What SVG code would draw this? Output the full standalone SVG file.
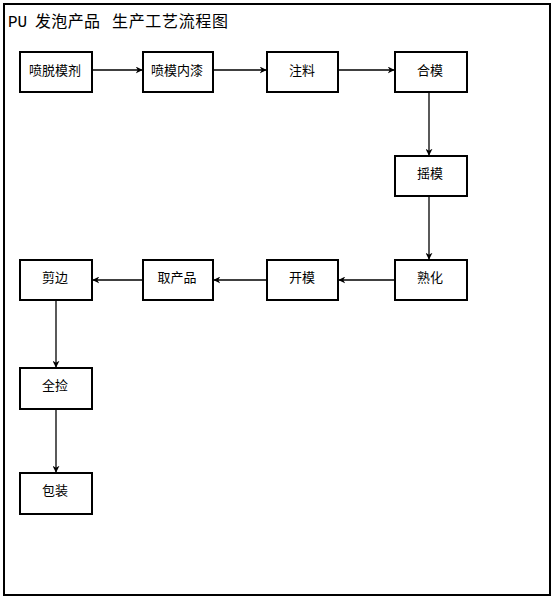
<svg xmlns="http://www.w3.org/2000/svg" width="559" height="604" viewBox="0 0 559 604">
<style>
.box{fill:#fff;stroke:#000;stroke-width:2}
.t{font-family:"Noto Sans CJK SC","Noto Sans CJK JP",sans-serif;font-size:13px;fill:#000;text-anchor:middle}
.tc{font-family:"Noto Sans CJK SC","Noto Sans CJK JP",sans-serif;font-size:16px;fill:#000}
.tl{font-family:"Liberation Mono","DejaVu Sans Mono",monospace;font-size:16px;fill:#000}
.c{stroke:#000;stroke-width:1.3;fill:none;marker-end:url(#ah)}
</style>
<defs>
<marker id="ah" viewBox="0 0 10 10" refX="9" refY="5" markerWidth="7" markerHeight="7" markerUnits="userSpaceOnUse" orient="auto">
<path d="M0,0 L10,5 L0,10 L3,5 Z" fill="#000"/>
</marker>
</defs>
<rect x="0" y="0" width="559" height="604" fill="#fff"/>
<rect x="4" y="4" width="546" height="591" fill="#fff" stroke="#000" stroke-width="2"/>
<g id="title">
<text class="tl" x="8" y="27">PU</text>
<text class="tc" x="35" y="27" textLength="65" lengthAdjust="spacing">发泡产品</text>
<text class="tc" x="112" y="27" textLength="116" lengthAdjust="spacing">生产工艺流程图</text>
</g>
<g id="connectors">
<line class="c" x1="92" y1="70" x2="142" y2="70"/>
<line class="c" x1="213" y1="70" x2="266" y2="70"/>
<line class="c" x1="338" y1="70" x2="394" y2="70"/>
<line class="c" x1="429" y1="92" x2="429" y2="155"/>
<line class="c" x1="429" y1="196" x2="429" y2="259"/>
<line class="c" x1="395" y1="280" x2="339" y2="280"/>
<line class="c" x1="267" y1="280" x2="214" y2="280"/>
<line class="c" x1="143" y1="280" x2="93" y2="280"/>
<line class="c" x1="56" y1="300" x2="56" y2="367"/>
<line class="c" x1="56" y1="409" x2="56" y2="472"/>
</g>
<g id="n1"><rect class="box" x="20" y="52" width="72" height="40"/><text class="t" x="55" y="75">喷脱模剂</text></g>
<g id="n2"><rect class="box" x="143" y="52" width="70" height="40"/><text class="t" x="177" y="75">喷模内漆</text></g>
<g id="n3"><rect class="box" x="267" y="52" width="71" height="40"/><text class="t" x="302" y="75">注料</text></g>
<g id="n4"><rect class="box" x="395" y="52" width="72" height="40"/><text class="t" x="430" y="75">合模</text></g>
<g id="n5"><rect class="box" x="395" y="156" width="72" height="40"/><text class="t" x="430" y="178">摇模</text></g>
<g id="n6"><rect class="box" x="395" y="260" width="72" height="40"/><text class="t" x="430" y="282">熟化</text></g>
<g id="n7"><rect class="box" x="267" y="260" width="71" height="40"/><text class="t" x="302" y="282">开模</text></g>
<g id="n8"><rect class="box" x="143" y="260" width="70" height="40"/><text class="t" x="177" y="282">取产品</text></g>
<g id="n9"><rect class="box" x="20" y="260" width="72" height="40"/><text class="t" x="55" y="282">剪边</text></g>
<g id="n10"><rect class="box" x="20" y="368" width="72" height="41"/><text class="t" x="55" y="390">全捡</text></g>
<g id="n11"><rect class="box" x="20" y="473" width="72" height="41"/><text class="t" x="55" y="495">包装</text></g>
</svg>
